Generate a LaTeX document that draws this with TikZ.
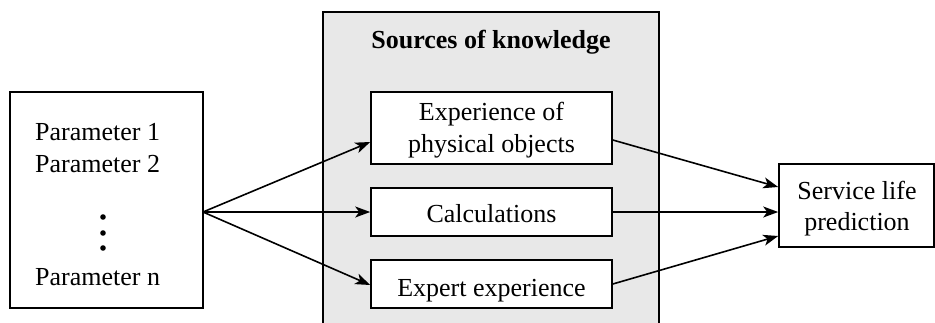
\documentclass[tikz,border=0pt]{standalone}
\usepackage{fontspec}
\setmainfont{Liberation Serif}
\usetikzlibrary{arrows.meta}
\begin{document}
\begin{tikzpicture}[x=1pt,y=-1pt,
  every node/.style={font=\fontsize{26}{32}\selectfont, inner sep=0pt},
  boxstyle/.style={draw, line width=1.6pt, fill=white, rectangle},
  txt/.style={anchor=base, align=center},
  arr/.style={line width=1.6pt, -{Stealth[length=15pt,width=11pt,inset=4pt]}}]
\useasboundingbox (0,0) rectangle (935,322);
% gray container
\fill[gray!18] (323,12) rectangle (659,323);
\draw[line width=1.6pt] (323,323) -- (323,12) -- (659,12) -- (659,323);
\node[txt, font=\fontsize{26}{32}\selectfont\bfseries] (title) at (491,48) {Sources of knowledge};
% left box
\node[boxstyle, minimum width=193pt, minimum height=216pt] (left) at (106.5,200) {};
\node[anchor=base west] (p1) at (35,140) {Parameter 1};
\node[anchor=base west] (p2) at (35,172) {Parameter 2};
\fill (103,217) circle (2.8pt) (103,233) circle (2.8pt) (103,248) circle (2.8pt);
\node[anchor=base west] (pn) at (35,285) {Parameter n};
\coordinate (src) at (203,212);
% source boxes
\node[boxstyle, minimum width=241pt, minimum height=72pt] (b1) at (491.5,128) {};
\node[txt] (b1t) at (491.5,120) {Experience of};
\node[txt] (b1u) at (491.5,152) {physical objects};
\node[boxstyle, minimum width=241pt, minimum height=48pt] (b2) at (491.5,212) {};
\node[txt] (b2t) at (491.5,222) {Calculations};
\node[boxstyle, minimum width=241pt, minimum height=48pt] (b3) at (491.5,284) {};
\node[txt] (b3t) at (491.5,296) {Expert experience};
% service box
\node[boxstyle, minimum width=155pt, minimum height=83pt] (s) at (856.5,205.5) {};
\node[txt] (st) at (857,199) {Service life};
\node[txt] (su) at (857,230) {prediction};
% arrows
\draw[arr] (src) -- ([yshift=-14pt]b1.west);
\draw[arr] (src) -- (b2.west);
\draw[arr] (src) -- ([yshift=-1pt]b3.west);
\draw[arr] ([yshift=-12pt]b1.east) -- ([yshift=18.5pt]s.west);
\draw[arr] (b2.east) -- ([yshift=-6.5pt]s.west);
\draw[arr] (b3.east) -- ([yshift=-30.5pt]s.west);
\end{tikzpicture}
\end{document}
